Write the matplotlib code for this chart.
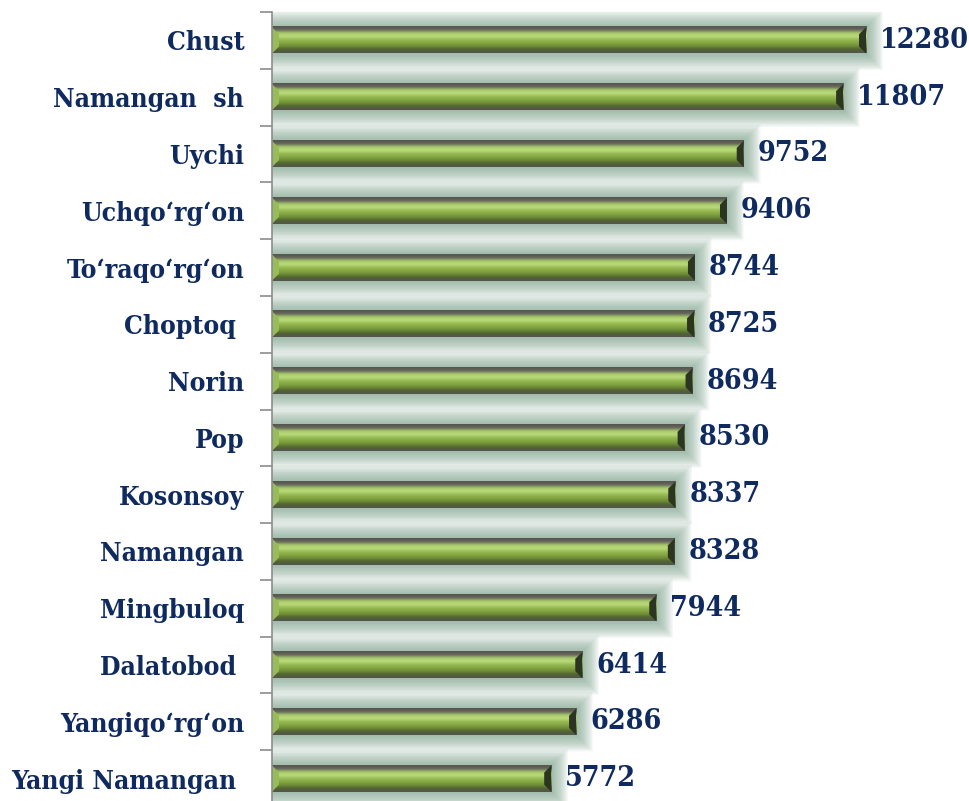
import numpy as np
import matplotlib.pyplot as plt
from matplotlib.colors import LinearSegmentedColormap
from matplotlib.patches import Polygon, Rectangle

# --- Daten ---
districts = ["Chust", "Namangan  sh", "Uychi", "Uchqo\u2018rg\u2018on", "To\u2018raqo\u2018rg\u2018on",
             "Choptoq ", "Norin", "Pop", "Kosonsoy", "Namangan", "Mingbuloq",
             "Dalatobod ", "Yangiqo\u2018rg\u2018on", "Yangi Namangan "]
values = [12280, 11807, 9752, 9406, 8744, 8725, 8694, 8530, 8337, 8328, 7944, 6414, 6286, 5772]

text_color = "#0f2a5e"
font = "DejaVu Serif"

# --- Figure ---
W, H = 970, 801
fig = plt.figure(figsize=(W / 100, H / 100), dpi=100)
left_px, top_px, bot_px = 272, 12, -6
ax = fig.add_axes([left_px / W, bot_px / H, 1 - left_px / W, (H - top_px - bot_px) / H])

n = len(values)
xmax = 14430
ax.set_xlim(0, xmax)
ax.set_ylim(n - 0.5, -0.5)

ax_w_px = W - left_px
ax_h_px = H - top_px - bot_px
px_x = xmax / ax_w_px
px_y = n / ax_h_px

bar_h = 0.46
grad = LinearSegmentedColormap.from_list("bevel", [
    "#55554f", "#66665d", "#a6c86a", "#bcdb7c", "#98bb54",
    "#84a744", "#6d8b35", "#506232", "#55554f"])
gimg = np.linspace(0, 1, 64).reshape(-1, 1)

for i, v in enumerate(values):
    top = i - bar_h / 2
    bot = i + bar_h / 2
    # Glow (weich auslaufend)
    for d in np.linspace(17, 1, 24):
        ax.add_patch(Rectangle((0, top - d * px_y), v + d * px_x, bar_h + 2 * d * px_y,
                               facecolor="#7ea48d", alpha=0.045, lw=0, zorder=1))
    # Balken mit Verlauf
    ax.imshow(gimg, cmap=grad, aspect="auto", extent=(0, v, bot, top),
              interpolation="bicubic", zorder=2)
    w = 7 * px_x
    b = 7 * px_y
    ax.add_patch(Polygon([(v - w, top + b), (v, top), (v, bot), (v - w, bot - b)],
                         closed=True, facecolor="#2c3522", lw=0, zorder=3))
    ax.add_patch(Polygon([(0, top), (w, top + b), (w, bot - b), (0, bot)],
                         closed=True, facecolor="#98bc58", lw=0, zorder=3))
    ax.text(v + 14 * px_x, i, str(v), va="center", ha="left", fontsize=20.5,
            fontweight="bold", family=font, fontstretch="condensed",
            color=text_color, zorder=4)

ax.set_yticks(range(n))
ax.set_yticklabels(districts, fontsize=19, fontweight="bold", family=font,
                   fontstretch="condensed", color=text_color)
ax.set_yticks(np.arange(-0.5, n, 1), minor=True)
ax.tick_params(axis="y", which="major", length=0, pad=20)
ax.tick_params(axis="y", which="minor", length=9, width=1.2, color="#8c8c8c")
ax.set_xticks([])
for s in ["top", "right", "bottom"]:
    ax.spines[s].set_visible(False)
ax.spines["left"].set_color("#8c8c8c")
ax.spines["left"].set_linewidth(1.2)
ax.spines["left"].set_zorder(5)

fig.savefig("out.png", dpi=100)
